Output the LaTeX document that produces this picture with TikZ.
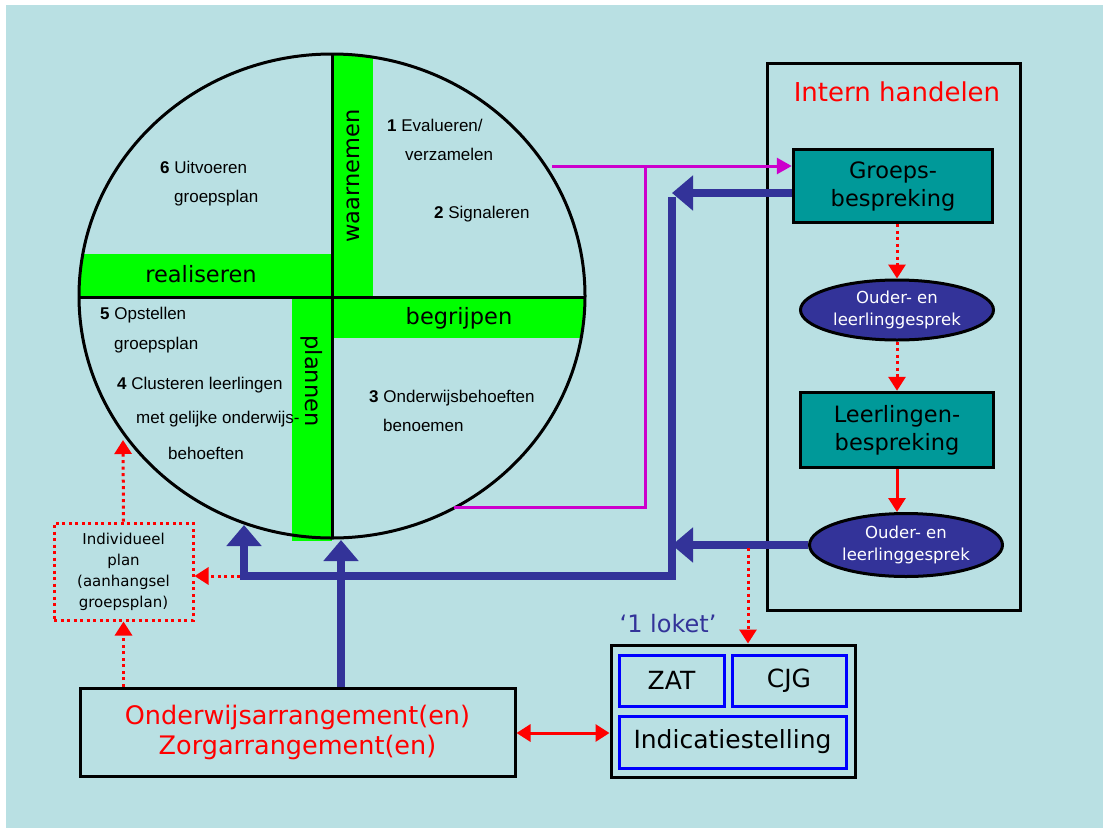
\documentclass[tikz,border=0pt]{standalone}
\usepackage{fontspec}
\setmainfont{DejaVu Sans}
\newfontfamily\arialf{Liberation Sans}
\usetikzlibrary{arrows.meta,shapes.geometric}
\definecolor{bg}{HTML}{B9E0E3}
\definecolor{lgreen}{HTML}{00FF00}
\definecolor{teal2}{HTML}{009999}
\definecolor{navy2}{HTML}{333399}
\definecolor{mag}{HTML}{CC00CC}
\definecolor{red2}{HTML}{FF0000}
\definecolor{blue2}{HTML}{0000FF}
\newcommand\fsz[2]{\fontsize{#1}{#2}\selectfont}
\tikzset{
  box/.style={draw=black, line width=3pt, inner sep=0pt},
  tealbox/.style={box, line width=3.5pt, fill=teal2, minimum width=199pt, font=\fsz{22.5}{28}, align=center},
  oval/.style={ellipse, draw=black, line width=3pt, fill=navy2, text=white, minimum width=193pt, inner sep=0pt, font=\fsz{16.5}{22}, align=center},
  bluebox/.style={draw=blue2, line width=3pt, inner sep=0pt, font=\fsz{25}{28}},
  ctext/.style={anchor=west, inner sep=0pt, font=\arialf\fsz{17}{20}},
  bandtext/.style={inner sep=0pt, font=\fsz{22.5}{26}},
  magline/.style={draw=mag, line width=3pt},
  navyline/.style={draw=navy2, line width=8pt},
  navyarrow/.style={navyline, -{Triangle[length=21pt,width=34pt]}},
  reddot/.style={draw=red2, line width=3pt, dash pattern=on 3pt off 3.5pt},
  redtip/.style={-{Triangle[length=14pt,width=17pt]}},
}
\begin{document}
\begin{tikzpicture}[x=1pt,y=-1pt]
\useasboundingbox (0,0) rectangle (1103,828);
\fill[white] (0,0) rectangle (1103,828);
\fill[bg] (6,5) rectangle (1103,828);

% ---- circle with bands
\begin{scope}
\clip (332,296) ellipse [x radius=253, y radius=242];
\fill[lgreen] (334,40) rectangle (373,297);
\fill[lgreen] (70,254) rectangle (332,297);
\fill[lgreen] (332,297) rectangle (600,338);
\end{scope}
\fill[lgreen] (292,297) rectangle (332,541);
\node[ellipse, draw=black, line width=3pt, minimum width=506pt, minimum height=484pt, inner sep=0pt] (circ) at (332,296) {};
\draw[line width=3pt] (332,54) -- (332,538);
\draw[line width=3pt] (79,297) -- (585,297);

\node[bandtext, rotate=90] (waar) at (353,176) {waarnemen};
\node[bandtext] (real) at (201,274) {realiseren};
\node[bandtext] (begr) at (459,318) {begrijpen};
\node[bandtext, rotate=-90] (plan) at (312,381) {plannen};

\node[ctext] (t1) at (387,125) {\textbf{1} Evalueren/};
\node[ctext] (t1b) at (405,154) {verzamelen};
\node[ctext] (t2) at (434,214) {\textbf{2} Signaleren};
\node[ctext] (t6) at (160,167) {\textbf{6} Uitvoeren};
\node[ctext] (t6b) at (174,198) {groepsplan};
\node[ctext] (t5) at (100,315) {\textbf{5} Opstellen};
\node[ctext] (t5b) at (114,345) {groepsplan};
\node[ctext] (t4) at (117,385) {\textbf{4} Clusteren leerlingen};
\node[ctext] (t4b) at (136,419) {met gelijke onderwijs-};
\node[ctext] (t4c) at (168,453) {behoeften};
\node[ctext] (t3) at (369,398) {\textbf{3} Onderwijsbehoeften};
\node[ctext] (t3b) at (383,425) {benoemen};

% ---- right panel
\node[box, minimum width=253pt, minimum height=547pt] (intern) at (893.5,336.5) {};
\node[text=red2, font=\fsz{26}{30}, inner sep=0pt] (title) at (897,92) {Intern handelen};
\node[tealbox, minimum height=73pt] (grp) at (893,186) {Groeps-\\bespreking};
\node[oval, minimum height=60pt] (oud1) at (897,310) {Ouder- en\\leerlinggesprek};
\node[tealbox, minimum width=193pt, minimum height=75pt] (lrl) at (897,430) {Leerlingen-\\bespreking};
\node[oval, minimum height=63pt] (oud2) at (906,545) {Ouder- en\\leerlinggesprek};

\draw[reddot, redtip] (grp.south -| oud1.north) -- (oud1.north);
\draw[reddot, redtip] (oud1.south) -- (lrl.north);
\draw[draw=red2, line width=3pt, redtip] (lrl.south) -- (lrl.south |- oud2.north);

% ---- bottom boxes
\node[box, minimum width=435pt, minimum height=88pt, text=red2, font=\fsz{25.5}{30}, align=center] (arr) at (297.5,732) {Onderwijsarrangement(en)\\Zorgarrangement(en)};
\node[box, minimum width=244pt, minimum height=132pt] (loket) at (733,711) {};
\node[bluebox, minimum width=105pt, minimum height=51pt] (zat) at (671.5,680.5) {ZAT};
\node[bluebox, minimum width=114pt, minimum height=51pt] (cjg) at (789,680.5) {CJG};
\node[bluebox, minimum width=227pt, minimum height=52pt] (ind) at (732.5,742) {Indicatiestelling};
\node[text=navy2, font=\fsz{24}{28}, inner sep=0pt] (lok) at (668,624) {`1 loket'};

\node[reddot, minimum width=139pt, minimum height=97pt, inner sep=0pt, align=center, font=\fsz{15}{21}] (indiv) at (123.5,571.5) {Individueel\\plan\\(aanhangsel\\groepsplan)};

% ---- coordinates
\coordinate (p1) at (552,166);
\coordinate (p2) at (454,507);
\coordinate (p3) at (645,507);
\coordinate (j1) at (672,193);
\coordinate (j2) at (672,576);
\coordinate (j3) at (244,576);
\coordinate (tip1) at (244,525);
\coordinate (tip2) at (341,540);
\coordinate (d1) at (748,548);
\coordinate (d2) at (240,576);
\coordinate (tip3) at (123,440);

% ---- magenta connectors
\draw[magline, -{Triangle[length=15pt,width=16pt]}] (p1) -- (p1 -| grp.west);
\draw[magline, line join=miter] (p2) -- (p3) -- (p3 |- p1);

% ---- navy connectors
\draw[navyarrow] (j1 -| grp.west) -- (j1);
\draw[navyline, line join=miter] ([yshift=-4pt]j1) -- (j2) -- (j3) -- ([yshift=-10pt]tip1);
\draw[navyarrow] (j3) -- (tip1);
\draw[navyarrow] (arr.north -| tip2) -- (tip2);
\draw[navyarrow] (oud2.west) -- (oud2.west -| j1);

% ---- red connectors
\draw[reddot, redtip] (d1) -- (d1 |- loket.north);
\draw[reddot, redtip] (d2) -- (d2 -| indiv.east);
\draw[reddot, redtip] (indiv.north) -- (tip3);
\draw[reddot, redtip] (arr.north -| indiv.south) -- (indiv.south);
\draw[draw=red2, line width=3pt, {Triangle[length=14pt,width=17pt]}-{Triangle[length=14pt,width=17pt]}] (arr.east |- 0,733) -- (loket.west |- 0,733);
\end{tikzpicture}
\end{document}
